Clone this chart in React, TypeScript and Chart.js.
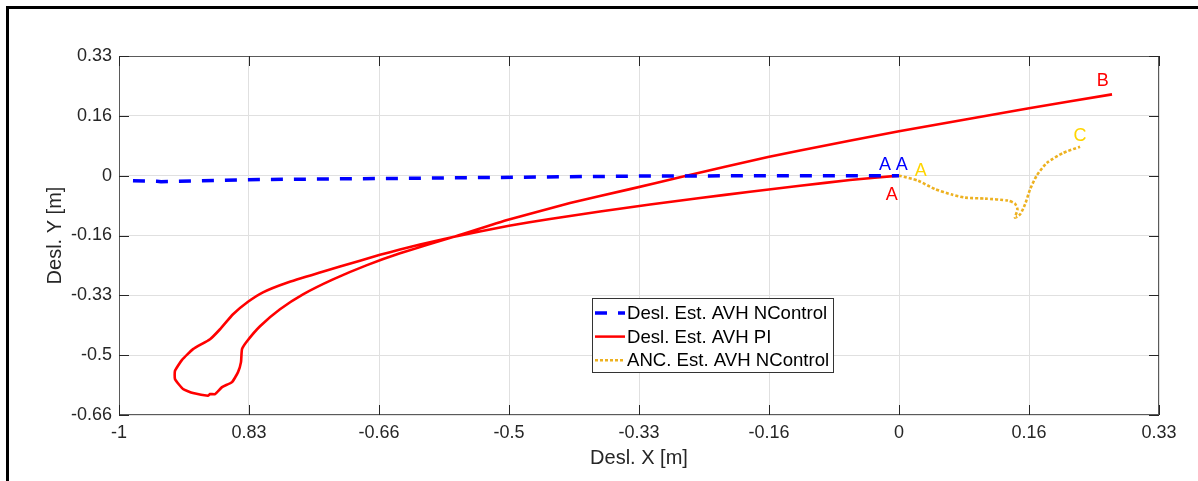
import React, { useEffect, useRef } from 'react';
import { Chart, registerables } from 'chart.js';

Chart.register(...registerables);

// ---- axis ticks ----
const xTickValues = [-1, -5 / 6, -4 / 6, -3 / 6, -2 / 6, -1 / 6, 0, 1 / 6, 2 / 6];
const xTickLabels = ['-1', '0.83', '-0.66', '-0.5', '-0.33', '-0.16', '0', '0.16', '0.33'];
const yTickValues = [-4 / 6, -3 / 6, -2 / 6, -1 / 6, 0, 1 / 6, 2 / 6];
const yTickLabels = ['-0.66', '-0.5', '-0.33', '-0.16', '0', '0.16', '0.33'];

const xAxisTitle = 'Desl. X [m]';
const yAxisTitle = 'Desl. Y [m]';

// ---- series ----
const seriesNames = ['Desl. Est. AVH NControl', 'Desl. Est. AVH PI', 'ANC. Est. AVH NControl'];

const nControlX = [-0.9821, -0.9513, -0.9462, -0.8346, -0.6397, -0.3192, 0];
const nControlY = [-0.0139, -0.0153, -0.0167, -0.0111, -0.0075, -0.0008, 0];

const piX = [0, -0.0628, -0.1269, -0.191, -0.2551, -0.3192, -0.3833, -0.4474, -0.5, -0.5718, -0.6141, -0.6397,
  -0.6654, -0.691, -0.7423, -0.7846, -0.8154, -0.8346, -0.8538, -0.8705, -0.8833, -0.9051, -0.9192, -0.9282,
  -0.9282, -0.9179, -0.9051, -0.8859, -0.8833, -0.8769, -0.8679, -0.8551, -0.8474, -0.8436, -0.8423, -0.8359,
  -0.8192, -0.7936, -0.7641, -0.7256, -0.6821, -0.6397, -0.5718, -0.5, -0.4218, -0.3449, -0.2808,
  -0.1679, -0.1269, 0, 0.1667, 0.2731];
const piY = [0, -0.0122, -0.0283, -0.045, -0.0622, -0.0803, -0.0997, -0.1206, -0.1394, -0.1706, -0.1917, -0.2056,
  -0.2206, -0.2367, -0.27, -0.2983, -0.325, -0.3514, -0.3861, -0.4278, -0.4556, -0.4833, -0.5131, -0.5436,
  -0.5667, -0.5944, -0.6056, -0.6131, -0.6083, -0.6083, -0.5889, -0.575, -0.5472, -0.5194, -0.4833, -0.4611,
  -0.4194, -0.3722, -0.3306, -0.2889, -0.2492, -0.2161, -0.1711, -0.1222, -0.0764, -0.0375, -0.0042,
  0.0517, 0.07, 0.1236, 0.1878, 0.2264];

const ancX = [0, 0.0244, 0.0462, 0.0679, 0.0846, 0.1103, 0.1397, 0.1487, 0.1519, 0.1487, 0.1551, 0.1615, 0.1679,
  0.1765, 0.1894, 0.2103, 0.2321];
const ancY = [0, -0.0139, -0.0375, -0.0528, -0.0611, -0.0639, -0.0694, -0.0778, -0.0944, -0.1167, -0.1083,
  -0.0806, -0.0389, 0, 0.0353, 0.0631, 0.0806];

// ---- text annotations (data coordinates) ----
const markerTexts = ['A', 'A', 'A', 'A', 'B', 'C'];
const markerX = [-0.0179, 0.0035, 0.0278, -0.0094, 0.2612, 0.2321];
const markerY = [0.0306, 0.0306, 0.0119, -0.0528, 0.2648, 0.1092];
const markerColors = ['#0000ff', '#0000ff', '#ffd500', '#ff0000', '#ff0000', '#ffd500'];

const FONT = "'Liberation Sans', Arial, Helvetica, sans-serif";
const BLUE = '#0000ff';
const RED = '#ff0000';
const ORANGE = '#edb120';

const toPoints = (xs: number[], ys: number[]) => xs.map((x, i) => ({ x, y: ys[i] }));

const decorPlugin = {
  id: 'decor',
  afterDraw(chart: any) {
    const { ctx, chartArea: a, scales } = chart;
    const xs = scales.x;
    const ys = scales.y;
    ctx.save();

    // axes box
    ctx.strokeStyle = '#5a5a5a';
    ctx.lineWidth = 1;
    ctx.strokeRect(a.left + 0.5, a.top + 0.5, a.right - a.left - 1, a.bottom - a.top - 1);

    // inward tick marks
    ctx.strokeStyle = '#262626';
    ctx.beginPath();
    const tl = 10;
    xTickValues.forEach((v) => {
      const px = Math.round(xs.getPixelForValue(v)) + 0.5;
      ctx.moveTo(px, a.bottom);
      ctx.lineTo(px, a.bottom - tl);
      ctx.moveTo(px, a.top);
      ctx.lineTo(px, a.top + tl);
    });
    yTickValues.forEach((v) => {
      const py = Math.round(ys.getPixelForValue(v)) + 0.5;
      ctx.moveTo(a.left, py);
      ctx.lineTo(a.left + tl, py);
      ctx.moveTo(a.right, py);
      ctx.lineTo(a.right - tl, py);
    });
    ctx.stroke();

    // text annotations
    ctx.font = `18px ${FONT}`;
    ctx.textAlign = 'center';
    ctx.textBaseline = 'middle';
    markerTexts.forEach((t, i) => {
      ctx.fillStyle = markerColors[i];
      ctx.fillText(t, xs.getPixelForValue(markerX[i]), ys.getPixelForValue(markerY[i]));
    });

    // legend
    const lx = a.left + 473;
    const ly = a.top + 242;
    const lw = 241;
    const lh = 74;
    ctx.fillStyle = '#ffffff';
    ctx.fillRect(lx, ly, lw, lh);
    ctx.strokeStyle = '#333333';
    ctx.lineWidth = 1;
    ctx.strokeRect(lx + 0.5, ly + 0.5, lw, lh);
    const styles = [
      { color: BLUE, width: 3.5, dash: [12, 11] },
      { color: RED, width: 2.5, dash: [] },
      { color: ORANGE, width: 2.5, dash: [3, 2] },
    ];
    ctx.textAlign = 'left';
    ctx.font = `18.6px ${FONT}`;
    seriesNames.forEach((name, i) => {
      const cy = ly + 15 + i * 23.6;
      ctx.beginPath();
      ctx.strokeStyle = styles[i].color;
      ctx.lineWidth = styles[i].width;
      ctx.setLineDash(styles[i].dash);
      ctx.moveTo(lx + 3, cy);
      ctx.lineTo(lx + 33, cy);
      ctx.stroke();
      ctx.setLineDash([]);
      ctx.fillStyle = '#000000';
      ctx.fillText(name, lx + 35, cy + 1);
    });

    // outer figure frame
    ctx.fillStyle = '#000000';
    ctx.fillRect(6, 6, chart.width - 6, 3);
    ctx.fillRect(6, 6, 3, chart.height - 6);
    ctx.restore();
  },
};

export default function App() {
  const canvasRef = useRef<HTMLCanvasElement | null>(null);

  useEffect(() => {
    const canvas = canvasRef.current;
    if (!canvas) return;
    const chart = new Chart(canvas, {
      type: 'scatter',
      data: {
        datasets: [
          {
            label: seriesNames[0],
            data: toPoints(nControlX, nControlY),
            showLine: true,
            borderColor: BLUE,
            borderWidth: 3.5,
            borderDash: [12, 11],
            pointRadius: 0,
            fill: false,
          },
          {
            label: seriesNames[1],
            data: toPoints(piX, piY),
            showLine: true,
            borderColor: RED,
            borderWidth: 2.6,
            pointRadius: 0,
            tension: 0.15,
            fill: false,
          },
          {
            label: seriesNames[2],
            data: toPoints(ancX, ancY),
            showLine: true,
            borderColor: ORANGE,
            borderWidth: 2.6,
            borderDash: [3, 2],
            pointRadius: 0,
            tension: 0.2,
            fill: false,
          },
        ],
      },
      options: {
        animation: false,
        responsive: false,
        devicePixelRatio: 1,
        layout: { padding: { left: 0, top: 56, right: 39, bottom: 0 } },
        plugins: { legend: { display: false }, tooltip: { enabled: false } },
        scales: {
          x: {
            type: 'linear',
            min: -1,
            max: 1 / 3,
            afterBuildTicks: (s: any) => {
              s.ticks = xTickValues.map((v) => ({ value: v }));
            },
            afterFit: (s: any) => {
              s.height = 66;
            },
            grid: { color: '#e0e0e0', lineWidth: 1, drawTicks: false },
            border: { display: false },
            ticks: {
              autoSkip: false,
              maxRotation: 0,
              padding: 7,
              color: '#262626',
              font: { family: FONT, size: 18 },
              callback: (_v: any, i: number) => xTickLabels[i],
            },
            title: {
              display: true,
              text: xAxisTitle,
              color: '#262626',
              font: { family: FONT, size: 20 },
              padding: { top: 0, bottom: 11 },
            },
          },
          y: {
            type: 'linear',
            min: -2 / 3,
            max: 1 / 3,
            afterBuildTicks: (s: any) => {
              s.ticks = yTickValues.map((v) => ({ value: v }));
            },
            afterFit: (s: any) => {
              s.width = 119;
            },
            grid: { color: '#e0e0e0', lineWidth: 1, drawTicks: false },
            border: { display: false },
            ticks: {
              autoSkip: false,
              padding: 7,
              color: '#262626',
              font: { family: FONT, size: 18 },
              callback: (_v: any, i: number) => yTickLabels[i],
            },
            title: {
              display: true,
              text: yAxisTitle,
              color: '#262626',
              font: { family: FONT, size: 20 },
              padding: { top: 43, bottom: 0 },
            },
          },
        },
      },
      plugins: [decorPlugin],
    } as any);
    return () => chart.destroy();
  }, []);

  return (
    <div style={{ position: 'absolute', left: 0, top: 0, width: 1198, height: 481, background: '#ffffff' }}>
      <canvas ref={canvasRef} width={1198} height={481} style={{ display: 'block', width: 1198, height: 481 }} />
    </div>
  );
}
